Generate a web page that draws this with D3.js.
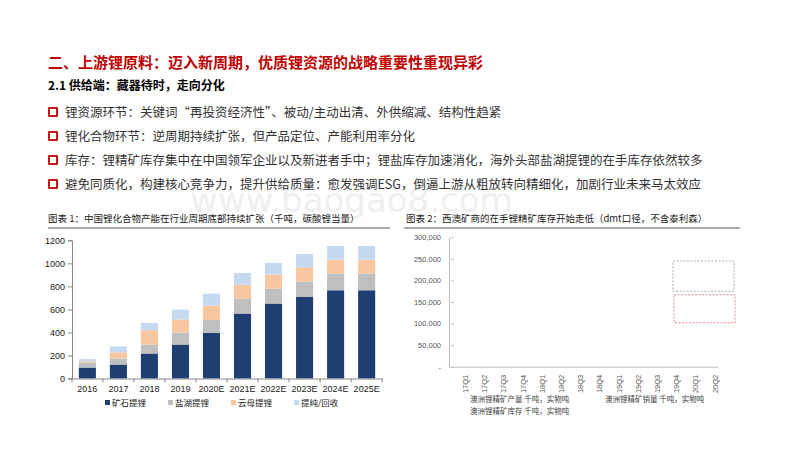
<!DOCTYPE html>
<html><head><meta charset="utf-8">
<script src="https://cdn.jsdelivr.net/npm/d3@7"></script>
<style>body{margin:0;background:#fff}svg{font-family:"Noto Sans CJK SC","Noto Sans",sans-serif}</style>
</head><body><svg id="s" width="800" height="451"></svg>
<script>
const years = ['2016','2017','2018','2019','2020E','2021E','2022E','2023E','2024E','2025E'];
const ore = [95,121,217,295,396,564,651,711,766,766];
const brine = [45,52,78,104,113,127,130,130,145,145];
const mica = [10,55,124,113,124,124,121,125,121,121];
const recycle = [18,50,64,86,104,102,101,115,119,119];
const seriesNames = ['矿石提锂','盐湖提锂','云母提锂','提纯/回收'];
const colors = ['#1f3f73','#bfbfbf','#f8c79f','#c5d9f1'];
const leftTicks = [0,200,400,600,800,1000,1200];
const quarters = ['17Q1','17Q2','17Q3','17Q4','18Q1','18Q2','18Q3','18Q4','19Q1','19Q2','19Q3','19Q4','20Q1','20Q2'];
const rightTicks = [0,50000,100000,150000,200000,250000,300000];
const bullets = ['锂资源环节：关键词“再投资经济性”、被动/主动出清、外供缩减、结构性趋紧',
 '锂化合物环节：逆周期持续扩张，但产品定位、产能利用率分化',
 '库存：锂精矿库存集中在中国领军企业以及新进者手中；锂盐库存加速消化，海外头部盐湖提锂的在手库存依然较多',
 '避免同质化，构建核心竞争力，提升供给质量：愈发强调ESG，倒逼上游从粗放转向精细化，加剧行业未来马太效应'];

const svg = d3.select('#s');
svg.append('text').attr('x',190).attr('y',212).attr('font-size',34).attr('fill','#efefef').attr('font-family','DejaVu Sans').text('www.baogao8.com');
svg.append('text').attr('x',48).attr('y',68).attr('fill','#c00000').attr('font-size',15).attr('font-weight','bold')
  .text('二、上游锂原料：迈入新周期，优质锂资源的战略重要性重现异彩');
svg.append('text').attr('x',48).attr('y',90).attr('font-size',12).attr('font-weight','bold').text('2.1 供给端：藏器待时，走向分化');
bullets.forEach((b,i)=>{
  const y = 117 + i*24;
  svg.append('rect').attr('x',49).attr('y',y-9).attr('width',8).attr('height',8).attr('fill','none').attr('stroke','#c00000').attr('stroke-width',1.8);
  svg.append('text').attr('x',65).attr('y',y).attr('font-size',12.5).attr('fill','#333').text(b);
});
svg.append('text').attr('x',48).attr('y',222).attr('font-size',9.5).attr('fill','#222').text('图表 1：中国锂化合物产能在行业周期底部持续扩张（千吨，碳酸锂当量）');
svg.append('text').attr('x',406).attr('y',222).attr('font-size',9.5).attr('fill','#222').text('图表 2：西澳矿商的在手锂精矿库存开始走低（dmt口径，不含泰利森）');
svg.append('line').attr('x1',48).attr('x2',390).attr('y1',228).attr('y2',228).attr('stroke','#aaa').attr('stroke-width',2);
svg.append('line').attr('x1',404).attr('x2',740).attr('y1',228).attr('y2',228).attr('stroke','#aaa').attr('stroke-width',2);

// left chart
const x = d3.scaleBand().domain(years).range([72,382]).paddingInner(0.45).paddingOuter(0.22);
const y = d3.scaleLinear().domain([0,1200]).range([378.5,240.3]);
const data = years.map((yr,i)=>({yr,ore:ore[i],brine:brine[i],mica:mica[i],recycle:recycle[i]}));
const stack = d3.stack().keys(['ore','brine','mica','recycle'])(data);
const gl = svg.append('g');
stack.forEach((s,k)=>gl.selectAll(null).data(s).enter().append('rect')
  .attr('x',d=>x(d.data.yr)).attr('width',x.bandwidth()).attr('y',d=>y(d[1])).attr('height',d=>y(d[0])-y(d[1])).attr('fill',colors[k]));
const ay = gl.append('g').attr('transform','translate(72,0)').call(d3.axisLeft(y).tickValues(leftTicks).tickSize(4).tickFormat(d3.format('d')));
const ax = gl.append('g').attr('transform','translate(0,378.5)').call(d3.axisBottom(x).tickSize(0).tickPadding(7));
ax.selectAll('.tick').append('line').attr('x1',x.step()/2).attr('x2',x.step()/2).attr('y2',4).attr('stroke','#888');
ax.append('line').attr('x1',72).attr('x2',72).attr('y2',4).attr('stroke','#888');
[ay,ax].forEach(a=>{a.selectAll('path,line').attr('stroke','#888');a.selectAll('text').attr('font-size',9).attr('fill','#222').attr('font-family','Liberation Sans, sans-serif');});
const lg = gl.append('g');
seriesNames.forEach((n,i)=>{
  const lx = 105 + i*63;
  lg.append('rect').attr('x',lx).attr('y',400).attr('width',5).attr('height',5).attr('fill',colors[i]);
  lg.append('text').attr('x',lx+7).attr('y',406).attr('font-size',8.5).attr('fill','#222').text(n);
});

// right chart
const xr = d3.scaleBand().domain(quarters).range([449,718]);
const yr = d3.scaleLinear().domain([0,300000]).range([366.7,237.3]);
const gr = svg.append('g');
const ary = gr.append('g').attr('transform','translate(449,0)').call(d3.axisLeft(yr).tickValues(rightTicks).tickSize(0).tickPadding(8).tickFormat(d=>d===0?'-':d3.format(',')(d)));
ary.select('.domain').attr('stroke','#bbb');
ary.selectAll('.tick').append('line').attr('x1',2).attr('x2',5).attr('stroke','#bbb');
ary.selectAll('text').attr('font-size',7.5).attr('fill','#555');
const arx = gr.append('g').attr('transform','translate(0,366.7)').call(d3.axisBottom(xr).tickSize(0).tickSizeOuter(0));
arx.select('.domain').attr('stroke','#bbb');
arx.selectAll('text').attr('font-size',7.5).attr('fill','#555').attr('text-anchor','end')
  .attr('transform','translate(4,8) rotate(-90)').attr('dy','0.3em').attr('dx','0');
gr.append('rect').attr('x',673).attr('y',yr(245000)).attr('width',61).attr('height',yr(175000)-yr(245000)).attr('fill','none').attr('stroke','#999').attr('stroke-dasharray','2,1.5').attr('stroke-width',0.8);
gr.append('rect').attr('x',674).attr('y',yr(167000)).attr('width',61).attr('height',yr(102000)-yr(167000)).attr('fill','none').attr('stroke','#e07070').attr('stroke-dasharray','2,1.5').attr('stroke-width',0.8);
[['澳洲锂精矿产量 千吨，实物吨',470,402],['澳洲锂精矿销量 千吨，实物吨',605,402],['澳洲锂精矿库存 千吨，实物吨',470,414]].forEach(([t,lx,ly])=>
  gr.append('text').attr('x',lx).attr('y',ly).attr('font-size',7.5).attr('fill','#444').text(t));
</script></body></html>
